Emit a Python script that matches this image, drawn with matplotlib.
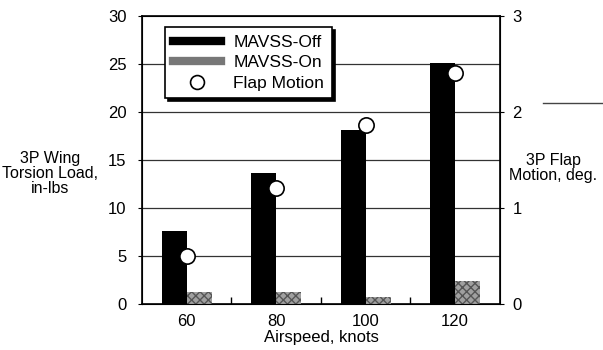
import numpy as np
import matplotlib.pyplot as plt
from matplotlib.lines import Line2D

plt.rcParams['font.family'] = ['Liberation Sans', 'DejaVu Sans']

airspeed = ["60", "80", "100", "120"]
torsion_off = [7.6, 13.6, 18.1, 25.1]
torsion_on = [1.2, 1.2, 0.7, 2.4]
flap_motion = [0.5, 1.21, 1.86, 2.41]

fig = plt.figure(figsize=(6.03, 3.5), dpi=100)
ax = fig.add_axes([0.2355, 0.1314, 0.5935, 0.8229])

x = np.arange(len(airspeed))
w = 0.28
ax.bar(x - w / 2, torsion_off, w, color='black', zorder=3)
ax.bar(x + w / 2, torsion_on, w, color='#a0a0a0', hatch='xxxx', edgecolor='#555555',
       linewidth=0, zorder=3)

ax.set_xlim(-0.5, 3.5)
ax.set_ylim(0, 30)
ax.set_yticks([0, 5, 10, 15, 20, 25, 30])
ax.set_xticks(x)
ax.set_xticklabels(airspeed, fontsize=12)
ax.set_xticks([0.5, 1.5, 2.5], minor=True)
ax.tick_params(axis='x', which='major', length=0, pad=7)
ax.tick_params(axis='x', which='minor', direction='in', length=5, width=1)
ax.tick_params(axis='y', labelsize=12, length=3, direction='out', pad=8)
for yv in [5, 10, 15, 20, 25]:
    ax.axhline(yv, color='#333333', lw=0.9, zorder=1)
for s in ax.spines.values():
    s.set_linewidth(1.2)
ax.set_xlabel("Airspeed, knots", fontsize=12, labelpad=1)

ax2 = ax.twinx()
ax2.set_ylim(0, 3)
ax2.set_yticks([0, 1, 2, 3])
ax2.tick_params(axis='y', labelsize=12, length=3, pad=6)
ax2.plot(x, flap_motion, 'o', ms=11, mfc='white', mec='black', mew=1.2, zorder=5)

fig.text(0.083, 0.505, "3P Wing\nTorsion Load,\nin-lbs", ha='center', va='center',
         fontsize=11.5, linespacing=1.0)
fig.text(0.918, 0.52, "3P Flap\nMotion, deg.", ha='center', va='center',
         fontsize=11.5, linespacing=1.0)
fig.add_artist(Line2D([0.9, 1.0], [0.706, 0.706], color='#444444', lw=1,
                      transform=fig.transFigure))

handles = [Line2D([], [], color='black', lw=6),
           Line2D([], [], color='#777777', lw=6),
           Line2D([], [], ls='none', marker='o', ms=10, mfc='white', mec='black', mew=1.2)]
leg = ax2.legend(handles, ["MAVSS-Off", "MAVSS-On", "Flap Motion"],
                 loc='upper left', bbox_to_anchor=(0.064, 0.962), borderaxespad=0,
                 fontsize=12.5, frameon=True, fancybox=False,
                 shadow={'color': 'black', 'alpha': 1, 'ox': 2, 'oy': -2},
                 handlelength=2.8, borderpad=0.45, labelspacing=0.3,
                 handletextpad=0.7)
leg.get_frame().set_edgecolor('black')
leg.get_frame().set_linewidth(1.2)
leg.get_frame().set_alpha(1)

fig.savefig("out.png", dpi=100)
